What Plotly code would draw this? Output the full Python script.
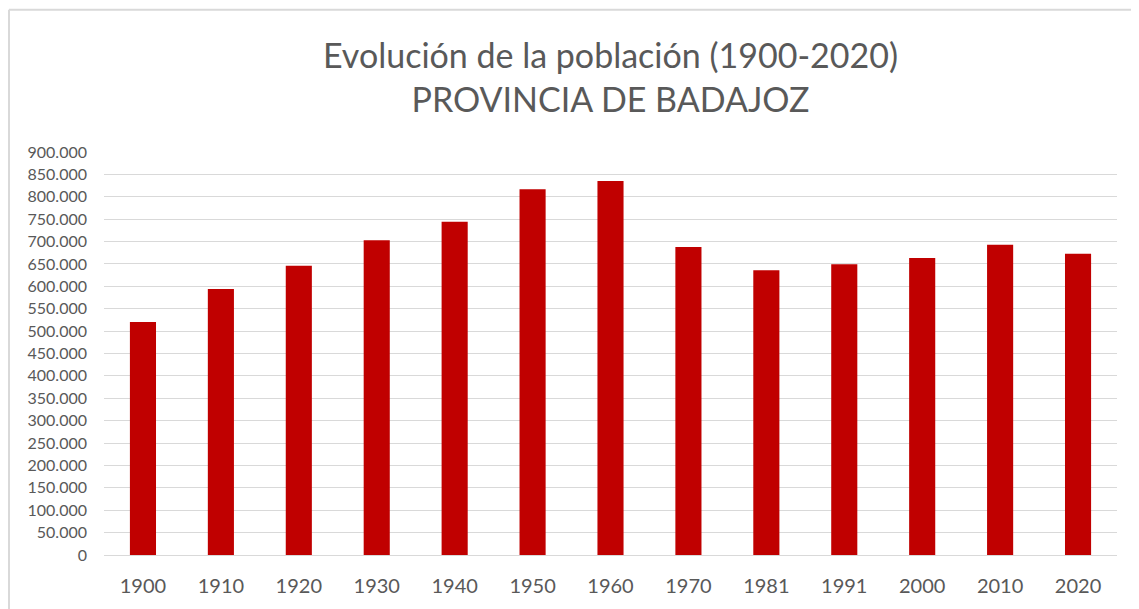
import plotly.graph_objects as go

years = ["1900", "1910", "1920", "1930", "1940", "1950", "1960", "1970", "1981", "1991", "2000", "2010", "2020"]
population = [520246, 594000, 646000, 703000, 744000, 817000, 835000, 688000, 636000, 649500, 663000, 693000, 673000]
y_ticks = list(range(0, 900001, 50000))

title_line1 = "Evolución de la población (1900-2020)"
title_line2 = "PROVINCIA DE BADAJOZ"

# page has an 8px body margin
W, H = 1131, 601
L, R, T, B = 96, 22, 144, 52
pw, ph = W - L - R, H - T - B

fig = go.Figure()
fig.add_trace(go.Bar(x=years, y=population, marker=dict(color="#C00000", line=dict(width=0)),
                     width=0.335))

bx = (1 - L) / pw
by = (H - B - 1) / ph
fig.update_layout(
    width=W, height=H,
    margin=dict(l=L, r=R, t=T, b=B),
    paper_bgcolor="white", plot_bgcolor="white",
    separators=",.",
    font=dict(family="Lato, Open Sans, sans-serif", color="#595959"),
    title=dict(text=title_line1 + "<br>" + title_line2, x=0.5, xref="paper", xanchor="center",
               y=1 - 60 / H, yanchor="top", font=dict(size=34, color="#595959")),
    showlegend=False,
    bargap=0.665,
    xaxis=dict(type="category", showgrid=False, showline=True, linecolor="#d9d9d9", linewidth=1,
               tickfont=dict(size=20, color="#595959"), ticks="", ticklabelstandoff=13),
    yaxis=dict(range=[0, 900000], tickvals=y_ticks, tickformat=",.0f", showgrid=True,
               gridcolor="#d9d9d9", gridwidth=1, zeroline=False, showline=False,
               tickfont=dict(size=16, color="#595959"), ticks="", ticklabelstandoff=16),
    shapes=[
        dict(type="line", xref="paper", yref="paper", x0=bx, x1=1.2, y0=by, y1=by,
             line=dict(color="#d9d9d9", width=2)),
        dict(type="line", xref="paper", yref="paper", x0=bx, x1=bx, y0=by, y1=-0.3,
             line=dict(color="#d9d9d9", width=2)),
    ],
)
fig.write_html("out.html")
